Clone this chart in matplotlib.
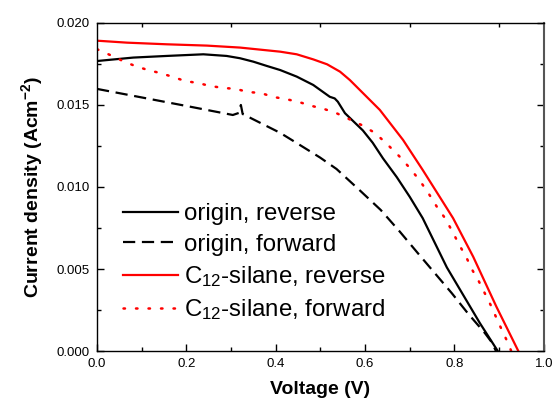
import matplotlib
matplotlib.use("Agg")
import matplotlib.pyplot as plt
from matplotlib.ticker import MultipleLocator, FormatStrFormatter

plt.rcParams['font.family'] = ['Liberation Sans', 'DejaVu Sans']
plt.rcParams['mathtext.fontset'] = 'custom'
plt.rcParams['mathtext.rm'] = 'Liberation Sans'
plt.rcParams['mathtext.it'] = 'Liberation Sans:italic'
plt.rcParams['mathtext.bf'] = 'Liberation Sans:bold'

# origin, reverse
v_or = [0.0, 0.081, 0.156, 0.238, 0.29, 0.32, 0.35, 0.38, 0.41, 0.447, 0.484,
        0.521, 0.532, 0.539, 0.555, 0.595, 0.617, 0.64, 0.671, 0.70, 0.729,
        0.783, 0.857, 0.897]
j_or = [0.01768, 0.01789, 0.01799, 0.01809, 0.01799, 0.01785, 0.01764, 0.01738,
        0.01713, 0.01673, 0.01622, 0.0155, 0.0154, 0.0152, 0.0145, 0.01345,
        0.0127, 0.01175, 0.0106, 0.0094, 0.0081, 0.0051, 0.0017, 0.0]

# origin, forward
v_of = [0.0, 0.1, 0.2, 0.304, 0.318, 0.322, 0.326, 0.41, 0.447, 0.499, 0.536,
        0.588, 0.635, 0.678, 0.718, 0.756, 0.794, 0.83, 0.868, 0.883, 0.893]
j_of = [0.01598, 0.01546, 0.01494, 0.01439, 0.01452, 0.0150, 0.01445, 0.0133,
        0.01268, 0.0118, 0.0111, 0.0098, 0.0086, 0.00727, 0.00597, 0.00475,
        0.00353, 0.0023, 0.0011, 0.00055, 0.0]

# C12-silane, reverse
v_cr = [0.0, 0.067, 0.156, 0.246, 0.32, 0.41, 0.447, 0.484, 0.515, 0.544,
        0.566, 0.633, 0.685, 0.729, 0.767, 0.797, 0.842, 0.894, 0.943]
j_cr = [0.01892, 0.0188, 0.0187, 0.01862, 0.0185, 0.01825, 0.01809, 0.01778,
        0.01748, 0.01703, 0.01652, 0.0147, 0.01287, 0.01104, 0.0094, 0.0081,
        0.00575, 0.0027, 0.0]

# C12-silane, forward
v_cf = [0.0, 0.029, 0.058, 0.085, 0.114, 0.141, 0.170, 0.197, 0.226, 0.253,
        0.282, 0.311, 0.338, 0.367, 0.394, 0.421, 0.452, 0.481, 0.508, 0.536,
        0.565, 0.592, 0.622, 0.649, 0.676, 0.700, 0.723, 0.743, 0.761, 0.779,
        0.796, 0.811, 0.826, 0.840, 0.855, 0.870, 0.883, 0.896, 0.909, 0.922,
        0.927]
j_cf = [0.0184, 0.01805, 0.01768, 0.01738, 0.01713, 0.01695, 0.01671, 0.01646,
        0.01634, 0.01616, 0.01604, 0.01598, 0.01579, 0.01573, 0.01549, 0.01537,
        0.01518, 0.01494, 0.01476, 0.0145, 0.01413, 0.01378, 0.0133, 0.01262,
        0.01189, 0.01116, 0.01037, 0.00957, 0.00878, 0.0081, 0.00726, 0.00646,
        0.00575, 0.00494, 0.00423, 0.00341, 0.0027, 0.00189, 0.00112, 0.00037,
        0.0]

fig = plt.figure(figsize=(5.56, 4.03), dpi=100)
ax = fig.add_axes([0.1745, 0.129, 0.8035, 0.814])

ax.plot(v_or, j_or, color='black', lw=1.6, label='origin, reverse')
ax.plot(v_of, j_of, color='black', lw=1.6, linestyle=(0, (5.5, 3.0)),
        label='origin, forward')
ax.plot(v_cr, j_cr, color='red', lw=1.6, label='C$_{12}$-silane, reverse')
ax.plot(v_cf, j_cf, color='red', lw=1.8, linestyle=(0, (0.6, 4.4)),
        dash_capstyle='round', label='C$_{12}$-silane, forward')

ax.set_xlim(0.0, 1.0)
ax.set_ylim(0.0, 0.020)
ax.xaxis.set_major_locator(MultipleLocator(0.2))
ax.xaxis.set_minor_locator(MultipleLocator(0.1))
ax.yaxis.set_major_locator(MultipleLocator(0.005))
ax.yaxis.set_minor_locator(MultipleLocator(0.0025))
ax.xaxis.set_major_formatter(FormatStrFormatter('%.1f'))
ax.yaxis.set_major_formatter(FormatStrFormatter('%.3f'))
ax.tick_params(which='both', direction='in', top=True, right=True,
               labelsize=9.5, width=1)
ax.tick_params(which='major', length=5, pad=5)
ax.tick_params(which='minor', length=3)
ax.tick_params(axis='x', which='major', top=False)
for s in ax.spines.values():
    s.set_linewidth(1.0)
ax.spines['right'].set_color('#555555')
ax.spines['right'].set_linewidth(1.5)

ax.set_xlabel('Voltage (V)', fontsize=14, fontweight='bold', labelpad=8)
ax.set_ylabel('Current density (Acm$^{\\mathbf{-2}}$)', fontsize=14,
              fontweight='bold', labelpad=8.5)

ax.legend(loc='upper left', bbox_to_anchor=(0.036, 0.48), frameon=False,
          fontsize=17.3, handlelength=2.3, handletextpad=0.25,
          labelspacing=0.35, borderaxespad=0)

fig.savefig('out.png', dpi=100)
